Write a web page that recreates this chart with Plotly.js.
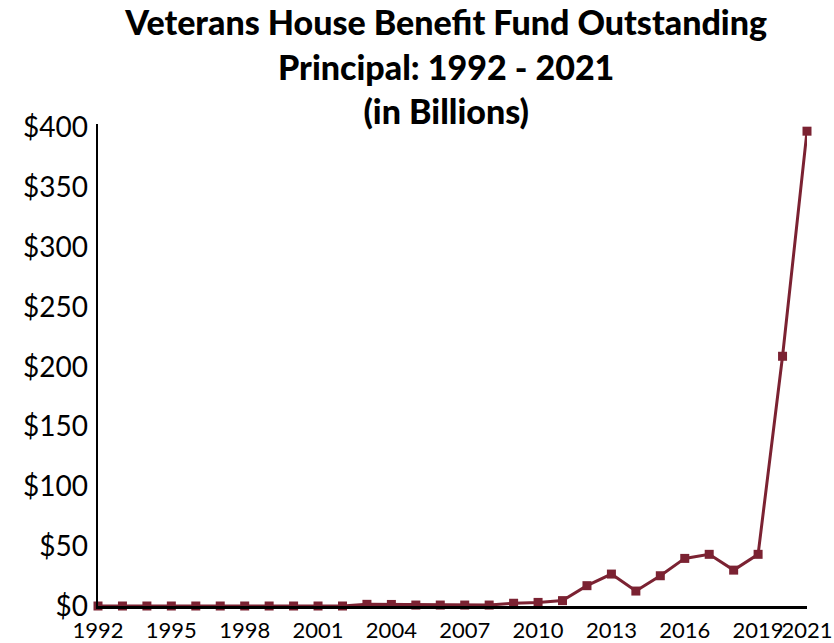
<!DOCTYPE html>
<html><head><meta charset="utf-8">
<script src="https://cdn.plot.ly/plotly-3.0.1.min.js"></script>
<style>body{margin:0;background:#fff}#c{width:834px;height:643px}</style>
</head><body><div id="c"></div>
<script>
const years = [1992,1993,1994,1995,1996,1997,1998,1999,2000,2001,2002,2003,2004,2005,2006,2007,2008,2009,2010,2011,2012,2013,2014,2015,2016,2017,2018,2019,2020,2021];
const principal = [0,0,0,0,0,0,0,0,0,0,0,1.4,1.3,0.8,0.8,0.8,0.8,2.3,3,4.5,17,26.7,12.5,25.3,39.8,43.2,30,43.2,208.8,397];
const xTicks = [1992,1995,1998,2001,2004,2007,2010,2013,2016,2019,2021];
const yTicks = [0,50,100,150,200,250,300,350,400];
const yLabels = yTicks.map(v => '$' + v);

const trace = {
  x: years, y: principal, type: 'scatter', mode: 'lines+markers',
  line: {color: '#7B2232', width: 3},
  marker: {symbol: 'square', size: 9, color: '#7B2232'},
  cliponaxis: false, hoverinfo: 'skip'
};
const layout = {
  width: 834, height: 643,
  margin: {l: 98, r: 27, t: 124, b: 37},
  paper_bgcolor: '#fff', plot_bgcolor: '#fff',
  showlegend: false,
  font: {family: 'Lato, "Open Sans", sans-serif', color: '#000'},
  title: {
    text: 'Veterans House Benefit Fund Outstanding<br>Principal: 1992 - 2021<br>(in Billions)',
    x: 0.535, xanchor: 'center', y: 0.945, yanchor: 'top',
    font: {family: 'Lato, sans-serif', size: 34, weight: 900, color: '#000'}
  },
  xaxis: {
    range: [1992, 2021], tickvals: xTicks, ticktext: xTicks.map(String),
    showgrid: false, zeroline: false, showline: true, linecolor: '#000', linewidth: 2.5,
    ticks: '', tickangle: 0, ticklabelstandoff: 3, tickfont: {size: 22, color: '#000'}, automargin: false
  },
  yaxis: {
    range: [0, 403], tickvals: yTicks, ticktext: yLabels,
    showgrid: false, zeroline: false, showline: true, linecolor: '#000', linewidth: 2.5,
    ticks: '', ticklabelstandoff: 2, tickfont: {size: 28, color: '#000'}, automargin: false
  }
};
Plotly.newPlot('c', [trace], layout, {staticPlot: true});
</script></body></html>
